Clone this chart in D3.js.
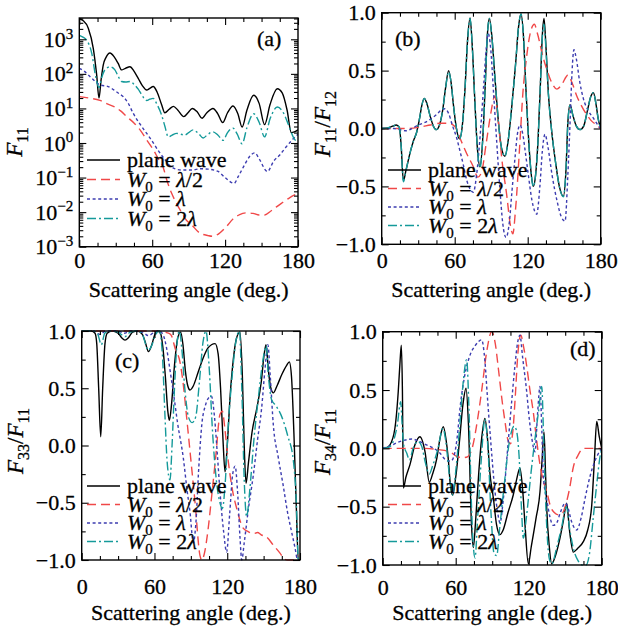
<!DOCTYPE html>
<html><head><meta charset="utf-8">
<script src="https://cdn.jsdelivr.net/npm/d3@7"></script>
<style>
body{margin:0;background:#fff;}
svg{display:block;}
text{font-family:"Liberation Serif","Times New Roman",serif;fill:#000;stroke:#000;stroke-width:0.3px;}
</style>
</head><body>
<svg id="chart" width="618" height="629"></svg>
<script>
// ---------------- DATA ----------------
const angleTicks = [0, 60, 120, 180];
const angleMinor = [15, 30, 45, 75, 90, 105, 135, 150, 165];
const linTicks = [-1.0, -0.5, 0.0, 0.5, 1.0];
const linMinor = [-0.75, -0.25, 0.25, 0.75];
const logTicks = [1e-3, 1e-2, 1e-1, 1e0, 1e1, 1e2, 1e3];
const logExp = ["\u22123", "\u22122", "\u22121", "0", "1", "2", "3"];
const seriesLabels = ["plane wave", "W0=\u03bb/2", "W0=\u03bb", "W0=2\u03bb"];

// (a) F11 (log)
const a_plane = [[0,4000],[3,3500],[7.4,2100],[11.5,550],[14.3,93],[16.2,20],[18,70],[19.7,180],[22,300],[25.2,400],[29,300],[32,200],[34.8,130],[38,145],[41.7,160],[45,120],[48.5,74],[52,45],[55.4,34],[58,38],[60.8,43],[64,30],[67.7,13],[70.4,7.5],[74,9.5],[77.5,11.5],[81,9],[86,5.8],[89.5,7.5],[93,10],[97,8],[101,5.2],[105,7.5],[110,10],[114,7],[118,3.9],[122,7.5],[126.5,11.7],[130.5,7],[134,2.9],[138,9],[143.5,24],[148,14],[152.5,3.4],[157,13],[163,37],[167,28],[171,9],[174.5,2],[177,2.1],[180,2.4]];
const a_half = [[0,22],[8,20],[17,17],[23,13.5],[29.3,11],[34,8.5],[39,5.8],[45,3.8],[50,2.4],[55,1.3],[61,0.63],[65,0.35],[69,0.2],[72,0.085],[76,0.035],[80,0.018],[84,0.01],[88,0.0059],[92.4,0.0043],[99,0.0025],[106,0.0021],[110,0.002],[115.6,0.0025],[121,0.0038],[126.5,0.0063],[132,0.0085],[137.5,0.0095],[143,0.0092],[148,0.0083],[152.6,0.0083],[158,0.011],[162,0.014],[166.3,0.018],[173,0.026],[180,0.035]];
const a_one = [[0,145],[4,120],[7.4,93],[12,65],[17,48],[23.8,43],[28,35],[32,28],[36,22],[40.3,14],[44.4,7.2],[50,3.5],[55,2],[59.5,1.2],[65,0.6],[70,0.35],[75.9,0.2],[84,0.165],[92.4,0.165],[100,0.18],[106,0.175],[114.2,0.15],[120,0.1],[127.4,0.068],[131,0.11],[135,0.2],[140,0.4],[144.4,0.52],[148,0.35],[154.8,0.15],[160,0.3],[165,0.45],[170,0.75],[175,1.2],[180,1.8]];
const a_two = [[0,1300],[3,1150],[6,950],[10.2,400],[13.5,83],[16.2,40],[18.5,80],[21,130],[25.2,160],[29.3,130],[32,85],[34.8,60],[38,58],[42,60],[45,50],[48.5,36],[51.3,25],[55.4,17],[58,18.5],[60.8,19.5],[64,13],[67.7,6.5],[70.5,3],[73.2,1.5],[76.5,1.7],[80,1.9],[86.8,1.7],[90,2],[93.7,2.4],[98,1.9],[101.9,1.4],[106,1.8],[110,2.1],[114,1.7],[118.4,1.2],[122,2],[126.5,2.7],[130,1.8],[134,0.95],[138,2.8],[143.5,7],[148,4],[152.5,1.5],[157,5],[163,11],[167,8.5],[172,3.5],[176,1.5],[180,1.0]];

// (b) F11/F12
const b_plane = [[0,0],[5,0.005],[9,0.02],[12,0.03],[14.5,0.01],[16,-0.15],[17.8,-0.45],[20,-0.36],[23.3,-0.21],[26,-0.11],[28.8,-0.03],[31,0.08],[33,0.2],[35,0.26],[37,0.22],[40,0.1],[42.5,0.02],[45,-0.01],[47.5,0.03],[50,0.15],[52.5,0.35],[55,0.5],[57,0.4],[59,0.2],[61,0.03],[64,-0.09],[66.5,0.05],[68.5,0.35],[70.5,0.75],[72.6,0.955],[74.5,0.7],[76.5,0.25],[78.5,-0.15],[80.8,-0.33],[83,-0.1],[85,0.35],[86.8,0.8],[88.5,0.95],[90.5,0.8],[93,0.45],[96,0.05],[98.5,-0.17],[101.3,-0.24],[104,-0.1],[107,0.2],[110,0.55],[112.5,0.88],[114.5,0.99],[116.5,0.8],[118.5,0.35],[120.5,-0.05],[122.5,-0.35],[124.6,-0.5],[126.5,-0.4],[128.5,-0.1],[130.5,0.4],[132,0.8],[133.4,0.95],[134.8,0.75],[137,0.3],[140,-0.05],[143,-0.3],[146,-0.5],[149.3,-0.585],[151.5,-0.35],[153,0.05],[154.8,0.205],[157,0.12],[160,0.02],[163,-0.01],[166,0.02],[169,0.15],[172,0.28],[174,0.31],[176,0.22],[178,0.08],[180,0]];
const b_half = [[0,0],[10,0],[20,0],[30,0.01],[40,0.03],[48,0.045],[55,0.045],[60,0.02],[65,-0.1],[70,-0.22],[75.3,-0.33],[79,-0.42],[82,-0.38],[86,-0.12],[89.5,0.12],[93,0.28],[95.5,0.1],[98.6,-0.25],[102.7,-0.57],[106,-0.85],[107.8,-0.91],[110,-0.7],[113.7,-0.1],[116,0.3],[119,0.61],[122,0.82],[125.5,0.9],[128,0.82],[132.8,0.61],[136,0.5],[140,0.39],[144,0.34],[148,0.38],[153,0.46],[157,0.38],[160,0.29],[164,0.2],[168.5,0.12],[172,0.07],[176.7,0.03],[180,0]];
const b_one = [[0,0],[10,0],[15,-0.01],[20,-0.02],[25,0],[30,0.03],[35,0.05],[40,0.08],[45,0.12],[49,0.16],[52,0.17],[55,0.13],[58,0.03],[61.6,-0.08],[64,-0.18],[67,-0.31],[70,-0.45],[73,-0.53],[75.3,-0.55],[78,-0.4],[81,-0.05],[84,0.4],[86,0.7],[87.6,0.82],[89.5,0.7],[92,0.3],[94.5,-0.11],[97,-0.5],[99.5,-0.82],[102.2,-0.94],[105,-0.8],[107,-0.55],[109.6,-0.25],[111.5,-0.05],[113.7,0.03],[116,-0.05],[118,-0.2],[120.5,-0.4],[123.5,-0.62],[127.4,-0.74],[130,-0.5],[132,-0.2],[134.2,-0.05],[136.5,-0.15],[140,-0.4],[144,-0.62],[147.5,-0.76],[150.7,-0.8],[153,-0.4],[155,0.1],[156.5,0.5],[158,0.68],[160,0.6],[162.5,0.42],[165.7,0.26],[170,0.15],[174,0.09],[177,0.04],[180,0]];
const b_two = [[0,0],[5,0.005],[9,0.02],[12,0.03],[14.5,0.01],[16,-0.15],[17.8,-0.46],[20,-0.36],[23.3,-0.21],[26,-0.11],[28.8,-0.03],[31,0.08],[33,0.2],[35,0.26],[37,0.22],[40,0.1],[42.5,0.02],[45,-0.01],[47.5,0.03],[50,0.15],[52.5,0.35],[55,0.49],[57,0.4],[59,0.2],[61,0.03],[64,-0.09],[66.5,0.05],[68.5,0.35],[70.5,0.75],[72.6,0.95],[74.5,0.7],[76.5,0.25],[78.5,-0.15],[80.8,-0.34],[83,-0.1],[85,0.35],[86.8,0.8],[88.5,0.95],[90.5,0.8],[93,0.45],[96,0.05],[98.5,-0.17],[101.3,-0.24],[104,-0.1],[107,0.2],[110,0.55],[112.5,0.88],[114.5,0.99],[116.5,0.8],[118.5,0.35],[120.5,-0.05],[122.5,-0.35],[124.6,-0.5],[126.5,-0.4],[128.5,-0.1],[130.5,0.4],[132,0.78],[133.4,0.9],[134.8,0.72],[137,0.3],[140,-0.05],[143,-0.3],[146,-0.5],[149.3,-0.59],[151.5,-0.35],[153,0.05],[154.8,0.2],[157,0.12],[160,0.02],[163,-0.01],[166,0.02],[169,0.15],[172,0.28],[174,0.31],[176,0.22],[178,0.08],[180,0]];

// (c) F33/F11
const c_plane = [[0,1],[8,1],[11,0.98],[12.4,0.89],[14,0.5],[15.7,0.077],[17.3,0.5],[19.2,0.89],[21,0.98],[25,1],[30,0.98],[33,0.94],[35.7,0.92],[38.5,0.94],[42,0.99],[46,1],[50,0.97],[52.5,0.9],[55,0.82],[57.5,0.87],[60,0.96],[62.5,1],[65,0.98],[67,0.85],[69,0.6],[71,0.3],[72.3,0.22],[74,0.35],[76.5,0.7],[79,0.93],[81.6,0.99],[83.5,0.88],[85.5,0.65],[87.5,0.52],[89.3,0.485],[92,0.52],[96,0.64],[100,0.76],[104,0.85],[107,0.88],[110,0.89],[112.5,0.8],[114.5,0.5],[116.5,0.05],[118.2,-0.23],[120,0.0],[122.5,0.45],[125,0.75],[127.5,0.93],[130.5,0.99],[132.5,0.6],[134,0.0],[135.5,-0.33],[137.5,-0.15],[140.5,0.12],[144.3,0.32],[148,0.55],[150.5,0.8],[152,0.88],[154,0.65],[156,0.5],[158,0.46],[161,0.52],[165,0.62],[169,0.7],[171.2,0.73],[173,0.6],[175,0.1],[177,-0.55],[178.6,-1.0],[180,-1.0]];
const c_half = [[0,1],[20,1],[40,1],[60,1],[68,0.99],[72,0.98],[74,0.96],[77,0.85],[81,0.73],[83.8,0.53],[86.5,0.25],[89.3,-0.05],[93.4,-0.49],[97.5,-0.96],[99,-1.0],[101,-0.95],[104,-0.75],[107,-0.46],[110.5,-0.1],[114,0.27],[116,0.3],[118,0.15],[121,-0.15],[124.5,-0.4],[127.8,-0.55],[131,-0.67],[133,-0.72],[137,-0.75],[141.5,-0.77],[145,-0.76],[148,-0.78],[152.5,-0.8],[158,-0.87],[163.5,-0.94],[167,-0.99],[170,-1.0],[180,-1.0]];
const c_one = [[0,1],[10,1],[15,0.97],[20,1],[30,1],[35,0.98],[40,1],[50,0.99],[55,0.96],[60,0.99],[64,1],[67,0.97],[70,0.85],[72.5,0.68],[75.5,0.47],[79,0.2],[83.8,-0.11],[87,-0.4],[89.3,-0.58],[92,-0.85],[94,-0.7],[96.5,-0.2],[99,0.18],[102,0.35],[105,0.42],[107,0.43],[109.5,0.25],[112,-0.1],[114,-0.4],[117,-0.75],[119.5,-0.93],[122,-0.6],[124.5,-0.25],[126.5,-0.18],[128.5,-0.4],[130.5,-0.8],[132,-1.0],[134,-0.85],[137.5,-0.55],[141.5,-0.26],[145,0.05],[148.4,0.33],[151,0.65],[153.5,0.88],[155.5,0.6],[158,0.18],[162,-0.1],[166,-0.34],[170,-0.6],[173,-0.75],[176,-0.9],[178,-1.0],[180,-1.0]];
const c_two = [[0,1],[10,1],[13,0.98],[16.2,0.88],[19,0.98],[23,1],[30,0.99],[35.7,0.95],[40,0.99],[46,1],[50,0.97],[55,0.83],[58,0.88],[61,0.97],[64,1],[66.5,0.8],[68.5,0.3],[70.5,-0.15],[72.8,-0.3],[74.5,0.0],[76.5,0.5],[78.5,0.88],[80.5,1.0],[82.5,0.85],[85,0.5],[88,0.25],[91,0.2],[94,0.25],[97,0.55],[100,0.9],[102.5,1.0],[105,0.7],[108,0.1],[111,-0.3],[114,-0.5],[116,-0.55],[118.5,-0.3],[121,0.2],[124,0.6],[127,0.9],[130,1.0],[132,0.5],[134,-0.3],[136,-0.62],[138.5,-0.4],[142,0.05],[146,0.45],[149.5,0.75],[152,0.87],[154,0.6],[156.6,0.4],[160,0.35],[165,0.25],[170,0.08],[174.5,-0.13],[177,-0.5],[178.6,-1.0],[180,-1.0]];

// (d) F34/F11
const d_plane = [[0,0],[3,0.005],[6,0.03],[10,0.17],[12.8,0.49],[14.3,0.75],[15.3,0.885],[16.2,0.5],[17,-0.34],[19,-0.25],[22.4,-0.14],[26.5,0.03],[30.6,0.1],[34.8,-0.03],[38.3,-0.29],[41,-0.22],[44.4,-0.09],[47,0.08],[49.8,0.185],[52,0.08],[53.9,-0.09],[55.5,-0.3],[57.5,-0.4],[60,-0.25],[63,0.05],[66,0.38],[68.5,0.515],[70.5,0.2],[73,-0.66],[74.5,-0.85],[76.5,-0.6],[79,-0.2],[81.5,0.1],[84,0.257],[86,0.1],[88,-0.2],[91,-0.43],[93.5,-0.65],[96.4,-0.74],[99,-0.7],[103,-0.55],[107.3,-0.4],[110,-0.27],[112.8,-0.17],[115,-0.35],[117,-0.66],[119.7,-0.99],[122,-0.85],[126,-0.6],[129.3,-0.37],[131,-0.1],[132.6,0.14],[133.8,-0.2],[134.8,-0.51],[137,-0.85],[138.9,-0.99],[142,-0.92],[145.7,-0.77],[148.5,-0.62],[151.2,-0.47],[153.5,-0.7],[156.7,-0.89],[160,-0.86],[164.9,-0.8],[168.5,-0.7],[171.8,-0.49],[174,-0.1],[175.9,0.23],[178,0.1],[180,0]];
const d_half = [[0,0],[20,0],[35,0],[45,-0.01],[55.3,-0.03],[61,-0.07],[66,-0.08],[70,-0.07],[74,0.02],[78,0.25],[81.3,0.49],[85.5,0.83],[89.6,1.0],[92.5,0.9],[95,0.69],[98,0.42],[100.5,0.23],[103,0.07],[105,0.04],[107,0.15],[109,0.45],[111,0.8],[113.5,0.97],[116,0.86],[118.3,0.71],[121,0.5],[123.8,0.31],[126.5,0.07],[129.3,-0.14],[132,-0.28],[134.8,-0.37],[138,-0.5],[141,-0.55],[144.5,-0.57],[147.5,-0.56],[150.5,-0.48],[153.5,-0.35],[156.7,-0.16],[160.5,-0.06],[164.9,0],[172,0],[180,0]];
const d_one = [[0,0],[6,0.02],[12,0.05],[18,0.07],[24,0.08],[30,0.06],[36,0.03],[42,0.0],[47,-0.04],[52,-0.1],[56,-0.11],[59,-0.05],[61.5,0.12],[63.5,0.34],[67,0.6],[71.8,0.8],[76,0.88],[81.3,0.93],[84,0.75],[86,0.45],[88.2,0.14],[92.3,-0.37],[94.5,-0.55],[96.4,-0.64],[99,-0.45],[103.2,0.06],[106,0.4],[108.7,0.71],[110.8,0.9],[112.8,0.97],[115,0.78],[118.3,0.49],[120.5,0.25],[122.5,0.09],[125.2,-0.03],[127.3,0.3],[129.3,0.53],[130.8,0.15],[132,-0.23],[135,-0.45],[140.2,-0.66],[143,-0.64],[146,-0.55],[150,-0.47],[152,-0.5],[155,-0.62],[159.4,-0.7],[163,-0.6],[166.5,-0.42],[170.4,-0.24],[174,-0.12],[177,-0.05],[180,0]];
const d_two = [[0,0],[5,0.01],[9,0.07],[12,0.2],[14.8,0.4],[16,0.2],[17.2,0.03],[19.7,-0.04],[22,-0.1],[25,0.0],[29,0.06],[32,0.02],[35,-0.12],[38.3,-0.22],[41,-0.15],[45,-0.02],[49.5,0.17],[52,0.05],[55,-0.25],[57.5,-0.4],[60,-0.2],[63,0.15],[66,0.55],[69,0.76],[71,0.3],[73,-0.5],[75.9,-0.94],[78,-0.6],[81,-0.1],[84,0.25],[86.5,0.0],[89,-0.55],[91.5,-0.9],[93.7,-0.92],[96,-0.7],[100,-0.3],[104,0.05],[108,0.19],[110,0.15],[112,-0.05],[114,-0.5],[115.6,-0.77],[118,-0.6],[122,-0.2],[126,0.15],[128.5,0.35],[130.7,0.53],[132.5,0.0],[134.5,-0.6],[137,-0.95],[139,-0.99],[143,-0.85],[147,-0.68],[151,-0.5],[153.5,-0.68],[157,-0.87],[161,-0.97],[164,-1.0],[167,-1.0],[170,-0.9],[173,-0.6],[176,-0.3],[178.5,-0.08],[180,0]];

// ---------------- STYLE / LAYOUT ----------------
const styles = [
  {color:"#000000", dash:null, w:1.4},
  {color:"#f04848", dash:"9,5", w:1.4},
  {color:"#3c3cb0", dash:"3,2.6", w:1.4},
  {color:"#159a9a", dash:"9,3,2,3", w:1.4}
];
const FONT = 22;

const panels = [
  {key:"a", box:{l:79.3, r:298, t:18, b:246.7}, log:true, yDomain:[1e-3, 4130],
   series:[a_plane,a_half,a_one,a_two], ylab:[["F",""],["11","sub"]], ylabPos:[22,142],
   tag:"(a)", tagPos:[257,46], legX:87, legY:[167,186.5,206,225.5], xLabBase:268, xTitleBase:297},
  {key:"b", box:{l:381.7, r:600.7, t:12.7, b:244.3}, log:false,
   series:[b_plane,b_half,b_one,b_two], ylab:[["F",""],["11","sub"],["/","n"],["F",""],["12","sub"]], ylabPos:[330,124],
   tag:"(b)", tagPos:[395,46], legX:388, legY:[177,195.5,214,232.5], xLabBase:268, xTitleBase:297},
  {key:"c", box:{l:81.7, r:300, t:331, b:560}, log:false,
   series:[c_plane,c_half,c_one,c_two], ylab:[["F",""],["33","sub"],["/","n"],["F",""],["11","sub"]], ylabPos:[23,441],
   tag:"(c)", tagPos:[115,368], legX:87, legY:[493,511.5,530,548.5], xLabBase:594, xTitleBase:620},
  {key:"d", box:{l:382.7, r:601.7, t:331.7, b:565}, log:false,
   series:[d_plane,d_half,d_one,d_two], ylab:[["F",""],["34","sub"],["/","n"],["F",""],["11","sub"]], ylabPos:[330,442],
   tag:"(d)", tagPos:[570,356], legX:388, legY:[493,511.5,530,548.5], xLabBase:595, xTitleBase:620}
];

const svg = d3.select("#chart");

function styleAxisG(g){
  g.select(".domain").remove();
  g.attr("font-family", '"Liberation Serif","Times New Roman",serif').attr("font-size", FONT);
  g.selectAll(".tick line").attr("stroke", "#000").attr("stroke-width", 1.1);
  g.selectAll(".tick text").attr("fill", "#000");
}

function addLegendText(t, idx){
  if (idx === 0) { t.append("tspan").text(seriesLabels[0]); return; }
  const rhs = seriesLabels[idx].split("=")[1];
  t.append("tspan").attr("font-style","italic").text("W");
  t.append("tspan").attr("font-size",15).attr("dy",5).text("0");
  t.append("tspan").attr("dy",-5).text(" = ");
  const parts = rhs.split("\u03bb");
  if (parts[0]) t.append("tspan").text(parts[0]);
  t.append("tspan").attr("font-style","italic").text("\u03bb");
  if (parts[1]) t.append("tspan").text(parts[1]);
}

panels.forEach(p => {
  const B = p.box;
  const x = d3.scaleLinear().domain([0,180]).range([B.l, B.r]);
  const y = p.log
    ? d3.scaleLog().domain(p.yDomain).range([B.b, B.t])
    : d3.scaleLinear().domain([-1,1]).range([B.b, B.t]);

  const clipId = "clip-" + p.key;
  svg.append("clipPath").attr("id", clipId).append("rect")
    .attr("x", B.l).attr("y", B.t - 1).attr("width", B.r - B.l).attr("height", B.b - B.t + 2);

  const gl = svg.append("g").attr("clip-path", `url(#${clipId})`);
  const line = d3.line().x(d => x(d[0])).y(d => y(d[1])).curve(d3.curveMonotoneX);
  p.series.forEach((data, i) => {
    const s = styles[i];
    gl.append("path").attr("d", line(data)).attr("fill","none")
      .attr("stroke", s.color).attr("stroke-width", s.w)
      .attr("stroke-dasharray", s.dash).attr("stroke-linejoin","round");
  });

  svg.append("rect").attr("x", B.l).attr("y", B.t).attr("width", B.r - B.l).attr("height", B.b - B.t)
    .attr("fill","none").attr("stroke","#000").attr("stroke-width",1.4);

  const padX = p.xLabBase - B.b - 0.71*FONT;
  svg.append("g").attr("transform",`translate(0,${B.b})`)
    .call(d3.axisBottom(x).tickValues(angleTicks).tickSizeInner(-7).tickSizeOuter(0).tickPadding(padX).tickFormat(d3.format("d")))
    .call(styleAxisG);
  svg.append("g").attr("transform",`translate(0,${B.b})`)
    .call(d3.axisBottom(x).tickValues(angleMinor).tickSizeInner(-4).tickSizeOuter(0).tickFormat(""))
    .call(styleAxisG);
  svg.append("g").attr("transform",`translate(0,${B.t})`)
    .call(d3.axisTop(x).tickValues(angleTicks).tickSizeInner(-7).tickSizeOuter(0).tickFormat(""))
    .call(styleAxisG);
  svg.append("g").attr("transform",`translate(0,${B.t})`)
    .call(d3.axisTop(x).tickValues(angleMinor).tickSizeInner(-4).tickSizeOuter(0).tickFormat(""))
    .call(styleAxisG);

  let majors, minors;
  if (p.log) {
    majors = logTicks;
    minors = [];
    logTicks.forEach(v => { for (let k=2;k<=9;k++){ const m=v*k; if (m < p.yDomain[1]) minors.push(m);} });
  } else {
    majors = linTicks; minors = linMinor;
  }
  const gy = svg.append("g").attr("transform",`translate(${B.l},0)`)
    .call(d3.axisLeft(y).tickValues(majors).tickSizeInner(-7).tickSizeOuter(0).tickPadding(6)
      .tickFormat(p.log ? (() => "") : d3.format(".1f")))
    .call(styleAxisG);
  if (p.log) {
    gy.selectAll(".tick text").each(function(d, i){
      const t = d3.select(this);
      t.append("tspan").text("10");
      t.append("tspan").attr("font-size",15).attr("dy","-0.55em").text(logExp[i]);
    });
  }
  svg.append("g").attr("transform",`translate(${B.l},0)`)
    .call(d3.axisLeft(y).tickValues(minors).tickSizeInner(-4).tickSizeOuter(0).tickFormat(""))
    .call(styleAxisG);
  svg.append("g").attr("transform",`translate(${B.r},0)`)
    .call(d3.axisRight(y).tickValues(majors).tickSizeInner(-7).tickSizeOuter(0).tickFormat(""))
    .call(styleAxisG);
  svg.append("g").attr("transform",`translate(${B.r},0)`)
    .call(d3.axisRight(y).tickValues(minors).tickSizeInner(-4).tickSizeOuter(0).tickFormat(""))
    .call(styleAxisG);

  svg.append("text").attr("x",(B.l+B.r)/2).attr("y",p.xTitleBase).attr("text-anchor","middle")
    .attr("font-size",FONT).text("Scattering angle (deg.)");

  const yt = svg.append("text").attr("transform",`translate(${p.ylabPos[0]},${p.ylabPos[1]}) rotate(-90)`)
    .attr("text-anchor","middle").attr("font-size",FONT+1);
  let shifted = false;
  p.ylab.forEach(([txt, kind]) => {
    const ts = yt.append("tspan").text(txt);
    if (kind === "sub") { ts.attr("font-size",16).attr("dy", 6); shifted = true; }
    else {
      if (shifted) { ts.attr("dy", -6); shifted = false; }
      if (txt === "F") ts.attr("font-style","italic");
    }
  });

  svg.append("text").attr("x",p.tagPos[0]).attr("y",p.tagPos[1]).attr("font-size",FONT).text(p.tag);

  p.legY.forEach((by, i) => {
    const s = styles[i];
    svg.append("line").attr("x1",p.legX).attr("x2",p.legX+33).attr("y1",by-7).attr("y2",by-7)
      .attr("stroke",s.color).attr("stroke-width",s.w).attr("stroke-dasharray",s.dash);
    const t = svg.append("text").attr("x",p.legX+40).attr("y",by).attr("font-size",FONT);
    addLegendText(t, i);
  });
});
</script>
</body></html>
